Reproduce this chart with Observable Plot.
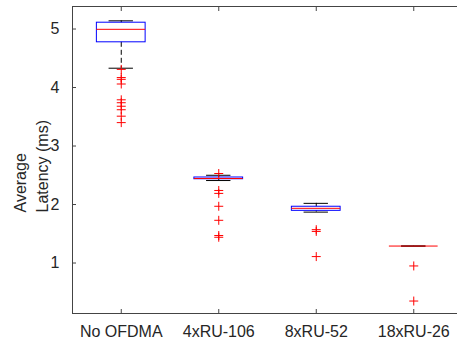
<!DOCTYPE html>
<html><head><meta charset="utf-8">
<script src="https://cdn.jsdelivr.net/npm/d3@7"></script>
<script src="https://cdn.jsdelivr.net/npm/@observablehq/plot@0.6"></script>
<style>body{margin:0;background:#fff}</style>
</head><body><div id="chart"></div>
<script>
const cats = ["No OFDMA", "4xRU-106", "8xRU-52", "18xRU-26"];
const q1 = [4.773, 2.432, 1.892, 1.29];
const med = [4.995, 2.445, 1.935, 1.29];
const q3 = [5.108, 2.462, 1.962, 1.29];
const wLo = [4.33, 2.41, 1.87, 1.29];
const wHi = [5.14, 2.50, 2.02, 1.29];
const outNoOfdma = [4.31, 4.17, 4.14, 4.06, 3.79, 3.74, 3.68, 3.62, 3.51, 3.40];
const out106 = [2.53, 2.24, 2.19, 1.97, 1.73, 1.47, 1.44];
const out52 = [1.57, 1.54, 1.11];
const out26 = [0.95, 0.35];
const yTicks = [1, 2, 3, 4, 5];
const xTicks = [1, 2, 3, 4];
const yLabel = "Average\nLatency (ms)";

const boxes = cats.map((c, i) => ({pos: i + 1, q1: q1[i], med: med[i], q3: q3[i], lo: wLo[i], hi: wHi[i]}));
const outliers = [outNoOfdma, out106, out52, out26].flatMap((arr, i) => arr.map(v => ({pos: i + 1, v})));
const boxHalf = 0.25, capHalf = 0.125;
const ink = "#262626";

const chart = Plot.plot({
  width: 457, height: 345,
  marginLeft: 72, marginRight: -5, marginTop: 6, marginBottom: 32,
  style: {fontFamily: "'Liberation Sans', Arial, sans-serif", fontSize: "16px", color: ink, background: "#fff"},
  x: {domain: [0.5, 4.5], axis: null},
  y: {domain: [0.137, 5.385], axis: null},
  marks: [
    Plot.frame({stroke: "#444", strokeWidth: 1}),
    Plot.axisY(yTicks, {anchor: "left", tickSize: 4, insetLeft: 4, fill: "none", stroke: "#444", label: null}),
    Plot.axisY(yTicks, {anchor: "left", tickSize: 0, tickPadding: 13, tickFormat: d => String(d), stroke: "none", fill: ink, fontSize: 16, label: null}),
    Plot.axisX(xTicks, {anchor: "bottom", tickSize: 4, insetBottom: 4, fill: "none", stroke: "#444", label: null}),
    Plot.axisX(xTicks, {anchor: "top", tickSize: 4, insetTop: 4, fill: "none", stroke: "#444", label: null}),
    Plot.axisX(xTicks, {anchor: "bottom", tickSize: 0, tickPadding: 12, tickFormat: i => cats[i - 1], stroke: "none", fill: ink, fontSize: 16, label: null}),
    Plot.ruleX(boxes, {x: "pos", y1: "q3", y2: "hi", stroke: "black", strokeDasharray: "5,3"}),
    Plot.ruleX(boxes, {x: "pos", y1: "q1", y2: "lo", stroke: "black", strokeDasharray: "5,3"}),
    Plot.ruleY(boxes, {y: "hi", x1: d => d.pos - capHalf, x2: d => d.pos + capHalf, stroke: "black"}),
    Plot.ruleY(boxes, {y: "lo", x1: d => d.pos - capHalf, x2: d => d.pos + capHalf, stroke: "black"}),
    Plot.rect(boxes, {x1: d => d.pos - boxHalf, x2: d => d.pos + boxHalf, y1: "q1", y2: "q3", fill: "none", stroke: "blue", strokeWidth: 1}),
    Plot.ruleY(boxes, {y: "med", x1: d => d.pos - boxHalf, x2: d => d.pos + boxHalf, stroke: "red"}),
    Plot.dot(outliers, {x: "pos", y: "v", symbol: "plus", r: 3, stroke: "red", strokeWidth: 1}),
    Plot.text([yLabel], {text: d => d, frameAnchor: "left", rotate: -90, textAnchor: "start", lineHeight: 1.375, dx: -43, dy: 52.5, fontSize: 16, fill: ink})
  ]
});
document.getElementById("chart").appendChild(chart);
</script>
</body></html>
